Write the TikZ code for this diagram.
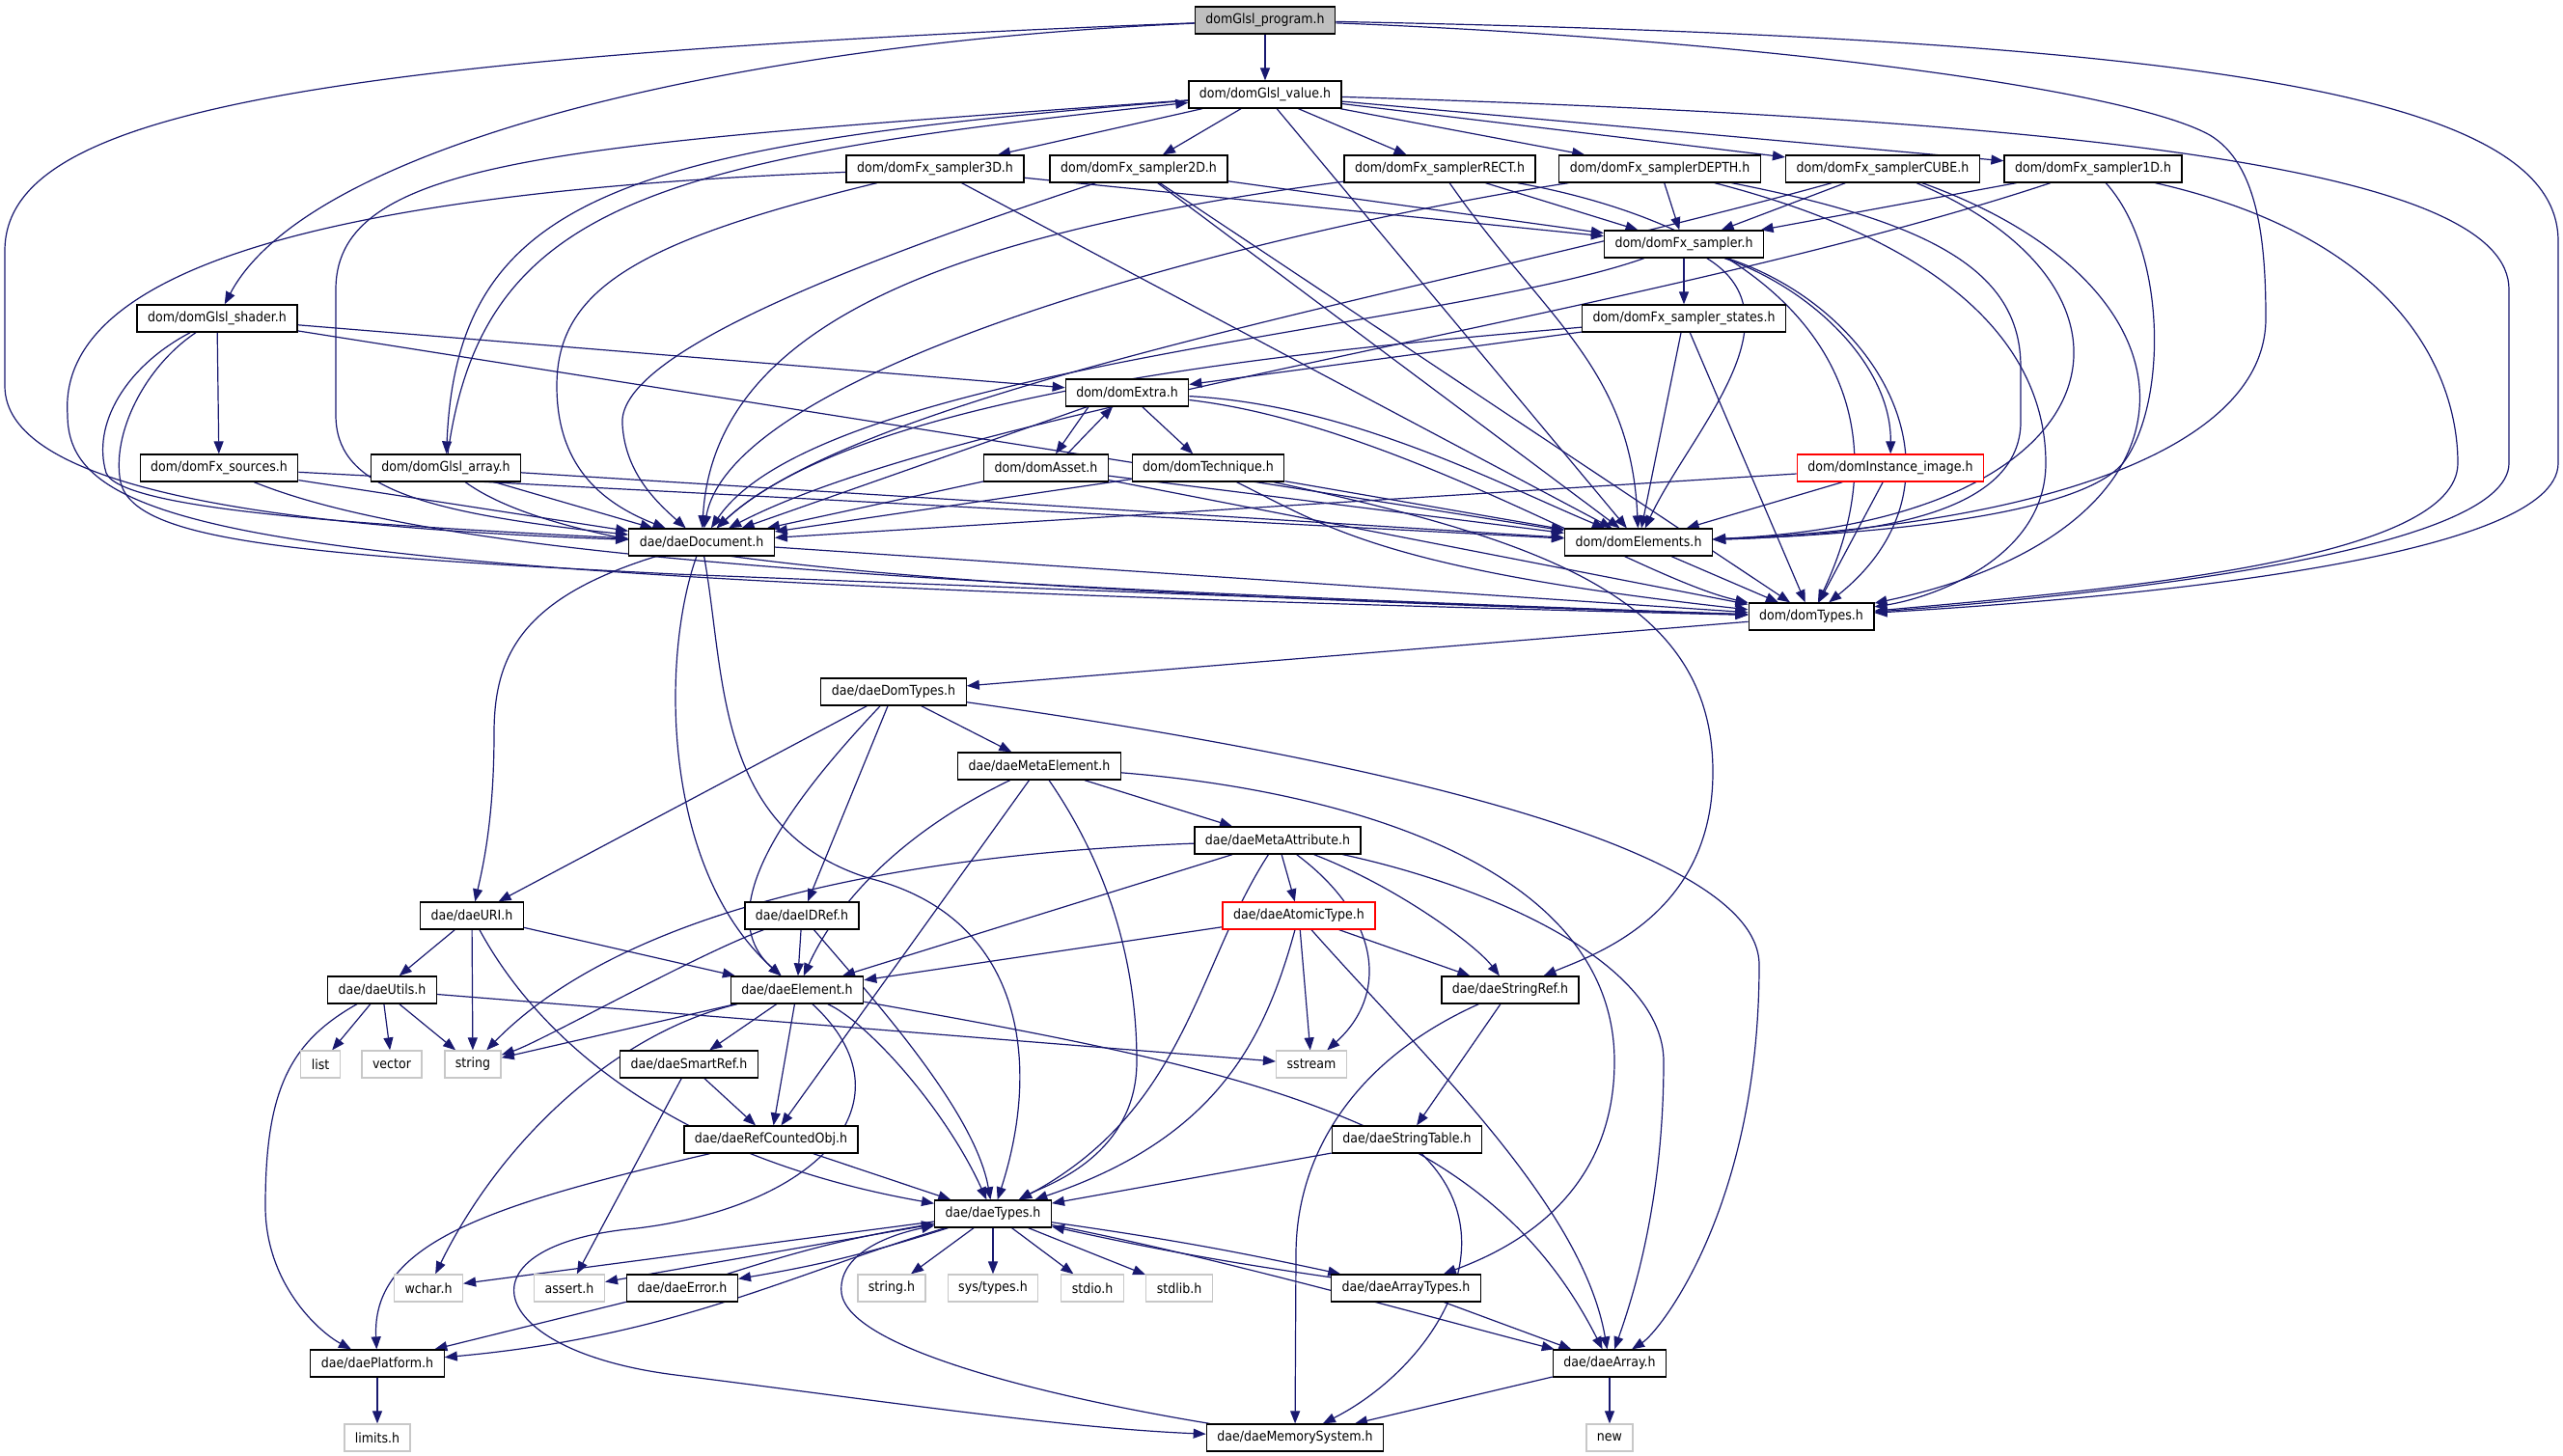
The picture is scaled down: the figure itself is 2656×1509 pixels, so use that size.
\documentclass[tikz,border=0pt]{standalone}
\usepackage{fontspec}
\setmainfont{DejaVu Sans}[FakeStretch=0.9]
\usetikzlibrary{arrows.meta}
\definecolor{edgeblue}{HTML}{191970}
\definecolor{rootgray}{HTML}{BFBFBF}
\definecolor{sysgray}{HTML}{C8C8C8}
\pgfdeclarelayer{bg}
\pgfsetlayers{bg,main}
\begin{document}
\begin{tikzpicture}[x=1pt,y=-1pt,font=\fontsize{14}{16}\selectfont,
  hfile/.style={draw=black,line width=1.3pt,fill=white,minimum height=28pt,inner xsep=11pt,inner ysep=0pt},
  root/.style={hfile,fill=rootgray},
  broken/.style={hfile,draw=red},
  sys/.style={hfile,draw=sysgray},
  inc/.style={draw=edgeblue,line width=1.2pt,-{Triangle[length=13pt,width=10pt]}}]
\useasboundingbox (0,0) rectangle (2656,1509);
% top rows
\node[root] (prog) at (1311,21) {domGlsl\_program.h};
\node[hfile] (value) at (1311,98) {dom/domGlsl\_value.h};
\node[hfile] (s3D) at (969,175) {dom/domFx\_sampler3D.h};
\node[hfile] (s2D) at (1180,175) {dom/domFx\_sampler2D.h};
\node[hfile] (sRECT) at (1492,175) {dom/domFx\_samplerRECT.h};
\node[hfile] (sDEPTH) at (1720,175) {dom/domFx\_samplerDEPTH.h};
\node[hfile] (sCUBE) at (1951,175) {dom/domFx\_samplerCUBE.h};
\node[hfile] (s1D) at (2169,175) {dom/domFx\_sampler1D.h};
\node[hfile] (fxsampler) at (1745,253) {dom/domFx\_sampler.h};
\node[hfile] (shader) at (225,330) {dom/domGlsl\_shader.h};
\node[hfile] (states) at (1745,330) {dom/domFx\_sampler\_states.h};
\node[hfile] (extra) at (1168,407) {dom/domExtra.h};
\node[hfile] (sources) at (227,485) {dom/domFx\_sources.h};
\node[hfile] (array) at (462,485) {dom/domGlsl\_array.h};
\node[hfile] (asset) at (1084,485) {dom/domAsset.h};
\node[hfile] (technique) at (1252,485) {dom/domTechnique.h};
\node[broken] (instimage) at (1959,485) {dom/domInstance\_image.h};
\node[hfile] (daedoc) at (727,562) {dae/daeDocument.h};
\node[hfile] (elements) at (1698,562) {dom/domElements.h};
\node[hfile] (domtypes) at (1877,639) {dom/domTypes.h};
% dae rows
\node[hfile] (daedomtypes) at (926,717) {dae/daeDomTypes.h};
\node[hfile] (metaelem) at (1077,794) {dae/daeMetaElement.h};
\node[hfile] (metaattr) at (1324,871) {dae/daeMetaAttribute.h};
\node[hfile] (uri) at (489,949) {dae/daeURI.h};
\node[hfile] (idref) at (831,949) {dae/daeIDRef.h};
\node[broken] (atomic) at (1346,949) {dae/daeAtomicType.h};
\node[hfile] (utils) at (396,1026) {dae/daeUtils.h};
\node[hfile] (element) at (826,1026) {dae/daeElement.h};
\node[hfile] (stringref) at (1565,1026) {dae/daeStringRef.h};
\node[sys] (list) at (332,1103) {list};
\node[sys] (vector) at (406,1103) {vector};
\node[sys] (string) at (490,1103) {string};
\node[hfile] (smartref) at (714,1103) {dae/daeSmartRef.h};
\node[sys] (sstream) at (1359,1103) {sstream};
\node[hfile] (refcounted) at (799,1181) {dae/daeRefCountedObj.h};
\node[hfile] (stringtable) at (1458,1181) {dae/daeStringTable.h};
\node[hfile] (daetypes) at (1029,1258) {dae/daeTypes.h};
\node[sys] (wchar) at (444,1335) {wchar.h};
\node[sys] (assert) at (590,1335) {assert.h};
\node[hfile] (error) at (707,1335) {dae/daeError.h};
\node[sys] (stringh) at (924,1335) {string.h};
\node[sys] (systypes) at (1029,1335) {sys/types.h};
\node[sys] (stdio) at (1132,1335) {stdio.h};
\node[sys] (stdlib) at (1222,1335) {stdlib.h};
\node[hfile] (arraytypes) at (1457,1335) {dae/daeArrayTypes.h};
\node[hfile] (platform) at (391,1413) {dae/daePlatform.h};
\node[hfile] (daearray) at (1668,1413) {dae/daeArray.h};
\node[sys] (limits) at (391,1490) {limits.h};
\node[hfile] (memsys) at (1342,1490) {dae/daeMemorySystem.h};
\node[sys] (new) at (1668,1490) {new};
\begin{pgfonlayer}{bg}
% domGlsl_program.h
\draw[inc] (prog) -- (value);
\draw[inc] (prog) .. controls (760,45) and (320,150) .. (shader);
\draw[inc] (prog) .. controls (300,60) and (5,120) .. (5,260) -- (5,400) .. controls (5,500) and (250,545) .. (daedoc);
\draw[inc] (prog) .. controls (1800,40) and (2200,90) .. (2290,140) .. controls (2340,170) and (2348,250) .. (2348,330) .. controls (2348,470) and (2100,545) .. (elements);
\draw[inc] (prog) .. controls (2300,40) and (2651,100) .. (2651,250) -- (2651,480) .. controls (2651,580) and (2200,620) .. (domtypes);
% domGlsl_value.h
\foreach \s in {s3D,s2D,sRECT,sDEPTH,sCUBE,s1D} \draw[inc] (value) -- (\s);
\draw[inc] (value) .. controls (650,150) and (474,200) .. (array);
\draw[inc] (array) .. controls (500,210) and (680,165) .. (value);
\draw[inc] (value) .. controls (600,150) and (348,160) .. (348,300) -- (348,430) .. controls (348,500) and (420,530) .. (daedoc);
\draw[inc] (value) -- (elements);
\draw[inc] (value) .. controls (2200,125) and (2600,180) .. (2600,300) -- (2600,480) .. controls (2600,570) and (2200,615) .. (domtypes);
% samplers
\foreach \s in {s3D,s2D,sRECT,sDEPTH,sCUBE,s1D} \draw[inc] (\s) -- (fxsampler);
\draw[inc] (s3D) .. controls (660,250) and (577,300) .. (577,400) .. controls (577,480) and (620,520) .. (daedoc);
\draw[inc] (s3D) -- (elements);
\draw[inc] (s3D) .. controls (300,200) and (60,290) .. (70,430) .. controls (70,560) and (300,600) .. (domtypes);
\draw[inc] (s2D) .. controls (800,300) and (640,380) .. (645,440) .. controls (648,490) and (680,520) .. (daedoc);
\draw[inc] (s2D) -- (elements);
\draw[inc] (s2D) -- (domtypes);
\draw[inc] (sRECT) .. controls (1000,240) and (740,330) .. (daedoc);
\draw[inc] (sRECT) .. controls (1600,330) and (1690,380) .. (elements);
\draw[inc] (sRECT) .. controls (1850,240) and (1990,400) .. (domtypes);
\draw[inc] (sDEPTH) .. controls (1300,240) and (760,380) .. (daedoc);
\draw[inc] (sDEPTH) .. controls (2000,230) and (2094,280) .. (2094,380) -- (2094,440) .. controls (2090,545) and (1900,555) .. (elements);
\draw[inc] (sDEPTH) .. controls (2050,260) and (2120,380) .. (2120,480) .. controls (2120,580) and (2000,620) .. (domtypes);
\draw[inc] (sCUBE) .. controls (1500,300) and (900,400) .. (daedoc);
\draw[inc] (sCUBE) .. controls (2250,300) and (2200,540) .. (elements);
\draw[inc] (sCUBE) .. controls (2300,300) and (2297,550) .. (domtypes);
\draw[inc] (s1D) .. controls (1700,330) and (1000,420) .. (daedoc);
\draw[inc] (s1D) .. controls (2246,260) and (2246,420) .. (2200,480) .. controls (2150,540) and (1900,555) .. (elements);
\draw[inc] (s1D) .. controls (2500,250) and (2547,400) .. (2547,480) .. controls (2547,580) and (2200,610) .. (domtypes);
% domFx_sampler.h and states
\draw[inc] (fxsampler) -- (states);
\draw[inc] (fxsampler) .. controls (1880,300) and (1960,380) .. (instimage);
\draw[inc] (fxsampler) .. controls (1500,340) and (850,380) .. (daedoc);
\draw[inc] (fxsampler) .. controls (1870,330) and (1750,450) .. (elements);
\draw[inc] (fxsampler) .. controls (1950,320) and (2050,500) .. (domtypes);
\draw[inc] (states) -- (extra);
\draw[inc] (states) .. controls (1400,360) and (900,400) .. (daedoc);
\draw[inc] (states) -- (elements);
\draw[inc] (states) -- (domtypes);
% shader, sources, array
\draw[inc] (shader) -- (sources);
\draw[inc] (shader) .. controls (130,380) and (95,440) .. (110,490) .. controls (125,530) and (400,545) .. (daedoc);
\draw[inc] (shader) .. controls (150,380) and (115,450) .. (125,500) .. controls (140,560) and (300,575) .. (700,595) .. controls (1200,615) and (1600,630) .. (domtypes);
\draw[inc] (shader) -- (elements);
\draw[inc] (shader) -- (extra);
\draw[inc] (sources) -- (daedoc);
\draw[inc] (sources) -- (elements);
\draw[inc] (sources) .. controls (450,575) and (900,605) .. (domtypes);
\draw[inc] (array) -- (daedoc);
\draw[inc] (array) -- (elements);
\draw[inc] (array) .. controls (600,585) and (1000,612) .. (domtypes);
% extra, asset, technique, image
\draw[inc] ([xshift=-40pt]extra.south) -- ([xshift=10pt]asset.north);
\draw[inc] ([xshift=22pt]asset.north) -- ([xshift=-15pt]extra.south);
\draw[inc] (extra) -- (technique);
\draw[inc] (extra) -- (daedoc);
\draw[inc] (extra) .. controls (1400,420) and (1550,500) .. (elements);
\draw[inc] (extra) .. controls (1450,440) and (1700,600) .. (domtypes);
\draw[inc] (asset) -- (daedoc);
\draw[inc] (asset) -- (elements);
\draw[inc] (asset) -- (domtypes);
\draw[inc] (technique) -- (daedoc);
\draw[inc] (technique) -- (elements);
\draw[inc] (technique) .. controls (1375,546) and (1434,590) .. (domtypes);
\draw[inc] (technique) .. controls (1600,560) and (1775,620) .. (1775,800) .. controls (1775,950) and (1650,990) .. (stringref);
\draw[inc] (instimage) -- (daedoc);
\draw[inc] (instimage) -- (elements);
\draw[inc] (instimage) -- (domtypes);
\draw[inc] (daedoc) -- (domtypes);
\draw[inc] (elements) -- (domtypes);
\draw[inc] (domtypes) -- (daedomtypes);
% daeDocument.h
\draw[inc] (daedoc) .. controls (540,620) and (512,680) .. (512,760) .. controls (512,850) and (500,900) .. (uri);
\draw[inc] (daedoc) .. controls (685,680) and (685,900) .. (element);
\draw[inc] (daedoc) .. controls (752,700) and (740,860) .. (900,910) .. controls (1060,950) and (1080,1100) .. (daetypes);
% daeDomTypes.h
\draw[inc] (daedomtypes) -- (uri);
\draw[inc] (daedomtypes) .. controls (800,850) and (740,950) .. (element);
\draw[inc] (daedomtypes) -- (idref);
\draw[inc] (daedomtypes) -- (metaelem);
\draw[inc] (daedomtypes) .. controls (1300,770) and (1823,860) .. (1823,1000) .. controls (1823,1250) and (1720,1380) .. (daearray);
% daeMetaElement.h
\draw[inc] (metaelem) .. controls (940,860) and (870,930) .. (element);
\draw[inc] (metaelem) -- (refcounted);
\draw[inc] (metaelem) .. controls (1150,900) and (1178,1000) .. (1178,1100) .. controls (1178,1200) and (1080,1230) .. (daetypes);
\draw[inc] (metaelem) -- (metaattr);
\draw[inc] (metaelem) .. controls (1400,820) and (1673,900) .. (1673,1100) .. controls (1673,1250) and (1550,1300) .. (arraytypes);
% daeMetaAttribute.h
\draw[inc] (metaattr) .. controls (800,890) and (600,990) .. (string);
\draw[inc] (metaattr) -- (element);
\draw[inc] (metaattr) -- (atomic);
\draw[inc] (metaattr) .. controls (1240,1000) and (1230,1150) .. (daetypes);
\draw[inc] (metaattr) .. controls (1450,920) and (1530,980) .. (stringref);
\draw[inc] (metaattr) .. controls (1430,950) and (1440,1030) .. (sstream);
\draw[inc] (metaattr) .. controls (1550,920) and (1724,1000) .. (1724,1100) .. controls (1724,1250) and (1690,1350) .. (daearray);
% daeAtomicType.h
\draw[inc] (atomic) -- (element);
\draw[inc] (atomic) -- (stringref);
\draw[inc] (atomic) -- (sstream);
\draw[inc] (atomic) .. controls (1310,1080) and (1260,1180) .. (daetypes);
\draw[inc] (atomic) .. controls (1480,1100) and (1640,1250) .. (daearray);
% daeURI.h, daeIDRef.h, daeUtils.h
\draw[inc] (uri) -- (utils);
\draw[inc] (uri) -- (string);
\draw[inc] (uri) -- (element);
\draw[inc] (uri) .. controls (560,1080) and (700,1200) .. (daetypes);
\draw[inc] (idref) .. controls (720,990) and (560,1080) .. (string);
\draw[inc] (idref) -- (element);
\draw[inc] (idref) .. controls (900,1030) and (1010,1150) .. (daetypes);
\foreach \t in {list,vector,string,sstream} \draw[inc] (utils) -- (\t);
\draw[inc] (utils) .. controls (300,1080) and (275,1130) .. (275,1250) .. controls (275,1330) and (330,1380) .. (platform);
% daeElement.h
\draw[inc] (element) -- (string);
\draw[inc] (element) -- (smartref);
\draw[inc] (element) -- (refcounted);
\draw[inc] (element) .. controls (900,1060) and (980,1150) .. (daetypes);
\draw[inc] (element) .. controls (640,1070) and (520,1180) .. (wchar);
\draw[inc] (element) .. controls (1300,1110) and (1540,1160) .. (daearray);
\draw[inc] (element) .. controls (950,1140) and (850,1250) .. (660,1273) .. controls (470,1290) and (500,1400) .. (700,1425) .. controls (900,1450) and (1100,1480) .. (memsys);
% smart refs, strings
\draw[inc] (smartref) -- (refcounted);
\draw[inc] (smartref) -- (assert);
\draw[inc] (refcounted) -- (daetypes);
\draw[inc] (refcounted) .. controls (500,1250) and (385,1290) .. (platform);
\draw[inc] (stringref) -- (stringtable);
\draw[inc] (stringref) .. controls (1400,1100) and (1343,1200) .. (1343,1300) -- (memsys);
\draw[inc] (stringtable) -- (daetypes);
\draw[inc] (stringtable) .. controls (1570,1290) and (1480,1420) .. (memsys);
% daeTypes.h
\foreach \t in {wchar,assert,stringh,systypes,stdio,stdlib} \draw[inc] (daetypes) -- (\t);
\draw[inc] (daetypes) to[bend left=4] (error);
\draw[inc] (error) to[bend left=4] (daetypes);
\draw[inc] (error) -- (platform);
\draw[inc] (daetypes) .. controls (820,1320) and (700,1385) .. (platform);
\draw[inc] (daetypes) to[bend left=2] (arraytypes);
\draw[inc] (arraytypes) to[bend left=2] (daetypes);
\draw[inc] (daetypes) .. controls (1250,1300) and (1500,1370) .. (daearray);
\draw[inc] (memsys) .. controls (1100,1450) and (880,1400) .. (872,1340) .. controls (868,1300) and (920,1280) .. (daetypes);
\draw[inc] (arraytypes) -- (daearray);
\draw[inc] (daearray) -- (memsys);
\draw[inc] (daearray) -- (new);
\draw[inc] (platform) -- (limits);
\end{pgfonlayer}
\end{tikzpicture}
\end{document}
